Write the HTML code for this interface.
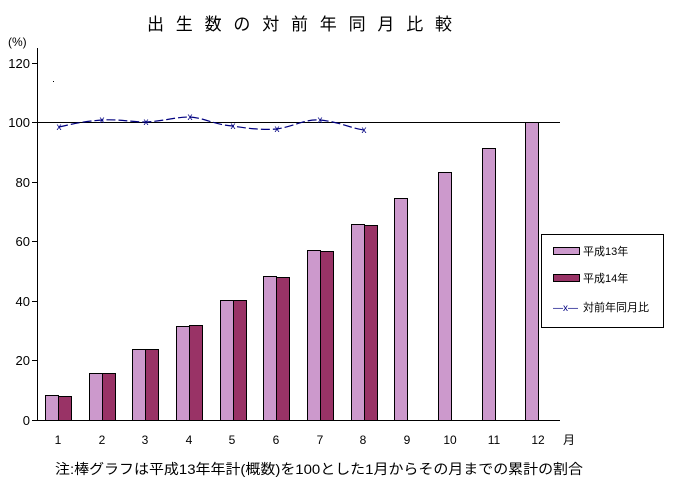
<!DOCTYPE html>
<html><head><meta charset="utf-8"><style>
body{margin:0;background:#fff}
svg text{font-family:"Liberation Sans","Noto Sans CJK JP",sans-serif;fill:#000}
</style></head><body>
<svg width="675" height="490" viewBox="0 0 675 490" xmlns="http://www.w3.org/2000/svg">
<text x="147" y="30" font-size="17" textLength="305" lengthAdjust="spacing">出生数の対前年同月比較</text>
<text x="8" y="46" font-size="12">(%)</text>
<rect x="53" y="81" width="1" height="1" fill="#000"/>
<g font-size="13" text-anchor="end">
<text x="30" y="68">120</text><text x="30" y="127">100</text><text x="30" y="187">80</text>
<text x="30" y="246">60</text><text x="30" y="306">40</text><text x="30" y="365">20</text><text x="30" y="425">0</text>
</g>
<g stroke="#000" stroke-width="1">
<line x1="37.5" y1="48" x2="37.5" y2="421"/>
<line x1="37" y1="420.5" x2="560" y2="420.5"/>
<line x1="37" y1="122.5" x2="560" y2="122.5"/>
<line x1="32" y1="63.5" x2="37" y2="63.5"/><line x1="32" y1="122.5" x2="37" y2="122.5"/>
<line x1="32" y1="182.5" x2="37" y2="182.5"/><line x1="32" y1="241.5" x2="37" y2="241.5"/>
<line x1="32" y1="301.5" x2="37" y2="301.5"/><line x1="32" y1="360.5" x2="37" y2="360.5"/>
<line x1="32" y1="420.5" x2="37" y2="420.5"/>
</g>
<g stroke="#000" stroke-width="1">
<rect x="45.5" y="395.5" width="13" height="25" fill="#cc99cc"/><rect x="58.5" y="396.5" width="13" height="24" fill="#993366"/>
<rect x="89.5" y="373.5" width="13" height="47" fill="#cc99cc"/><rect x="102.5" y="373.5" width="13" height="47" fill="#993366"/>
<rect x="132.5" y="349.5" width="13" height="71" fill="#cc99cc"/><rect x="145.5" y="349.5" width="13" height="71" fill="#993366"/>
<rect x="176.5" y="326.5" width="13" height="94" fill="#cc99cc"/><rect x="189.5" y="325.5" width="13" height="95" fill="#993366"/>
<rect x="220.5" y="300.5" width="13" height="120" fill="#cc99cc"/><rect x="233.5" y="300.5" width="13" height="120" fill="#993366"/>
<rect x="263.5" y="276.5" width="13" height="144" fill="#cc99cc"/><rect x="276.5" y="277.5" width="13" height="143" fill="#993366"/>
<rect x="307.5" y="250.5" width="13" height="170" fill="#cc99cc"/><rect x="320.5" y="251.5" width="13" height="169" fill="#993366"/>
<rect x="351.5" y="224.5" width="13" height="196" fill="#cc99cc"/><rect x="364.5" y="225.5" width="13" height="195" fill="#993366"/>
<rect x="394.5" y="198.5" width="13" height="222" fill="#cc99cc"/>
<rect x="438.5" y="172.5" width="13" height="248" fill="#cc99cc"/>
<rect x="482.5" y="148.5" width="13" height="272" fill="#cc99cc"/>
<rect x="525.5" y="122.5" width="13" height="298" fill="#cc99cc"/>
</g>
<path d="M59,127 C80,122 90,121 102,120 C120,119 130,122 146,122 C165,121 175,117 190,117 C205,118 215,125 233,126 C250,129 265,130 277,129 C295,126 305,119 320,120 C340,122 350,128 364,130" fill="none" stroke="#000080" stroke-width="1.2" stroke-dasharray="9,3"/>
<g font-size="10" text-anchor="middle">
<text x="59" y="130" style="fill:#000080">x</text><text x="102" y="123" style="fill:#000080">x</text>
<text x="146" y="125" style="fill:#000080">x</text><text x="190" y="120" style="fill:#000080">x</text>
<text x="233" y="129" style="fill:#000080">x</text><text x="277" y="132" style="fill:#000080">x</text>
<text x="320" y="123" style="fill:#000080">x</text><text x="364" y="133" style="fill:#000080">x</text>
</g>
<g font-size="12" text-anchor="middle">
<text x="58" y="444">1</text><text x="102" y="444">2</text><text x="145" y="444">3</text><text x="189" y="444">4</text>
<text x="232" y="444">5</text><text x="276" y="444">6</text><text x="320" y="444">7</text><text x="363" y="444">8</text>
<text x="407" y="444">9</text><text x="450" y="444">10</text><text x="494" y="444">11</text><text x="538" y="444">12</text>
</g>
<text x="563" y="444" font-size="12">月</text>
<rect x="541.5" y="234.5" width="122" height="93" fill="#fff" stroke="#000"/>
<rect x="553.5" y="247.5" width="26" height="7" fill="#cc99cc" stroke="#000"/>
<text x="583" y="255" font-size="11">平成13年</text>
<rect x="553.5" y="274.5" width="26" height="7" fill="#993366" stroke="#000"/>
<text x="583" y="282" font-size="11">平成14年</text>
<text x="553" y="311" font-size="10" style="fill:#000080">—x—</text>
<text x="583" y="311" font-size="11">対前年同月比</text>
<text x="55" y="474" font-size="14" textLength="528" lengthAdjust="spacingAndGlyphs">注:棒グラフは平成13年年計(概数)を100とした1月からその月までの累計の割合</text>
</svg>
</body></html>
